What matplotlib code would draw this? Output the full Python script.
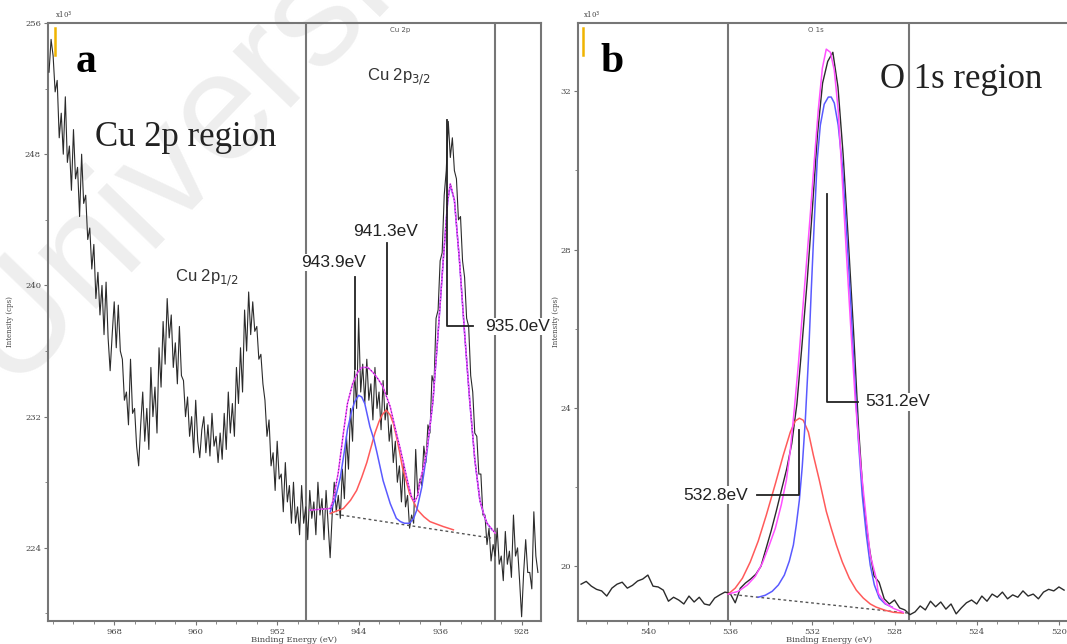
import numpy as np
import matplotlib
matplotlib.use('Agg')
import matplotlib.pyplot as plt
from matplotlib.ticker import MultipleLocator

# ---------------- panel a : Cu 2p ----------------
cu_start, cu_step = 974.4, -0.2
cu_counts = [
    253.0, 255.0, 254.0, 251.8, 252.5, 249.0, 250.5, 248.0, 251.5, 247.5,
    248.5, 245.8, 249.5, 246.5, 247.2, 244.2, 248.0, 245.0, 245.5, 242.8,
    243.5, 241.0, 242.5, 239.2, 240.8, 238.2, 240.0, 237.0, 240.2, 236.8,
    234.8, 237.0, 239.0, 236.2, 238.8, 236.0, 235.5, 233.0, 233.5, 231.5,
    235.5, 232.2, 232.5, 230.2, 229.0, 231.5, 233.5, 230.5, 232.5, 230.0,
    235.0, 232.0, 233.8, 231.0, 236.2, 233.8, 237.8, 235.2, 239.2, 236.8,
    238.2, 235.0, 236.5, 234.0, 237.5, 234.5, 234.2, 232.0, 233.2, 230.8,
    232.0, 229.8, 233.0, 230.5, 229.5, 231.2, 232.0, 229.8, 231.5, 229.6,
    232.2, 230.2, 230.8, 229.2, 231.0, 229.4, 232.2, 230.0, 233.5, 231.0,
    232.8, 230.8, 235.0, 232.8, 236.2, 233.5, 238.5, 236.0, 239.6, 237.0,
    239.0, 237.2, 237.5, 235.5, 235.8, 234.0, 233.0, 230.8, 231.8, 229.0,
    229.8, 227.5, 230.5, 228.2, 228.5, 226.2, 229.2, 226.8, 227.8, 225.5,
    228.0, 225.5, 226.5, 224.8, 227.8, 225.5, 226.5, 224.5, 227.5, 225.8,
    226.8, 224.8, 228.0, 226.0, 227.0, 224.5, 227.5, 225.5, 223.4, 226.0,
    228.0, 226.2, 227.2, 225.8, 228.8, 227.0, 230.8, 228.8, 232.5, 230.5,
    234.8, 232.5, 238.0, 233.5, 235.2, 232.8, 235.5, 233.0, 234.0, 231.8,
    235.0, 232.5, 233.5, 231.2, 234.2, 231.8, 232.8, 230.5, 231.5, 229.2,
    230.5, 228.0, 229.0, 226.8, 229.2, 226.5, 227.2, 225.2, 226.0, 225.5,
    230.0, 227.2, 228.2, 227.8, 230.2, 229.2, 231.5, 231.0, 234.5, 234.0,
    238.0, 238.5, 241.5, 242.0, 245.5, 247.0, 250.0, 247.8, 249.0, 247.0,
    246.5, 244.0, 244.2, 241.5, 240.5, 238.0, 237.5, 234.5, 233.5, 231.0,
    230.8, 228.5, 228.5, 226.0, 226.0, 224.2, 225.2, 223.2, 224.2, 223.5,
    225.2, 223.0, 223.5, 222.0, 225.0, 223.0, 223.8, 222.2, 226.0, 223.5,
    224.0, 222.0, 219.8, 222.5, 224.5, 222.5, 222.5, 221.5, 226.2, 223.5,
    222.5,
]
cu_energy = cu_start + cu_step * np.arange(len(cu_counts))

cu_env_e = [948.8, 946.8, 946.5, 946.0, 945.5, 945.1, 944.6, 944.1, 943.7, 943.1,
            942.6, 942.1, 941.6, 940.9, 940.3, 939.9, 939.5, 939.1, 938.8, 938.5,
            938.2, 938.0, 937.6, 937.3, 937.0, 936.7, 936.2, 935.7, 935.25, 935.0,
            934.6, 934.1, 933.6, 933.1, 932.6, 932.1, 931.7, 931.4, 930.6]
cu_env_y = [226.3, 226.4, 226.9, 228.6, 231.0, 232.8, 234.0, 234.7, 235.0, 235.0,
            234.7, 234.3, 233.8, 232.6, 231.0, 230.0, 228.9, 227.8, 227.1, 226.8,
            227.2, 228.0, 229.0, 230.0, 231.4, 233.0, 237.1, 241.5, 245.2, 246.2,
            245.2, 241.5, 237.1, 233.0, 229.4, 226.9, 226.0, 225.5, 224.9]

cu_blue_e = [946.8, 946.3, 945.8, 945.4, 945.1, 944.7, 944.4, 944.0, 943.7, 943.4,
             942.9, 942.5, 942.2, 941.6, 940.9, 940.3, 939.9, 939.5, 939.0, 938.6,
             938.3, 937.8, 937.3, 936.7, 936.2, 935.7, 935.25, 935.0, 934.6, 934.1,
             933.6, 933.1, 932.6, 932.1, 931.7, 931.4, 930.9]
cu_blue_y = [226.2, 227.0, 228.3, 229.9, 231.2, 232.3, 232.9, 233.3, 233.2, 232.8,
             231.4, 230.6, 229.8, 228.1, 226.7, 225.8, 225.6, 225.5, 225.5, 225.8,
             226.3, 227.7, 229.8, 233.0, 237.1, 241.5, 245.2, 246.1, 245.2, 241.5,
             237.1, 233.0, 229.4, 226.9, 226.0, 225.5, 225.1]

cu_red_e = [946.8, 945.5, 944.8, 944.2, 943.7, 943.2, 942.8, 942.4, 942.0, 941.7,
            941.3, 940.9, 940.6, 940.3, 940.0, 939.7, 939.3, 939.0, 938.6, 938.2,
            937.6, 937.0, 935.7, 934.7]
cu_red_y = [226.1, 226.4, 226.9, 227.5, 228.3, 229.2, 230.1, 231.0, 231.7, 232.1,
            232.4, 232.1, 231.6, 230.8, 229.9, 228.9, 228.0, 227.3, 226.8, 226.3,
            225.9, 225.6, 225.3, 225.1]

cu_base_e = [946.8, 931.0]
cu_base_y = [226.1, 224.6]

cu_window = [949.2, 930.6]

# ---------------- panel b : O 1s ----------------
o_start, o_step = 543.25, -0.25
o_counts = [
    19.55, 19.62, 19.50, 19.42, 19.38, 19.25, 19.45, 19.55, 19.60, 19.45,
    19.52, 19.63, 19.68, 19.78, 19.50, 19.48, 19.40, 19.12, 19.22, 19.15,
    19.05, 19.25, 19.10, 19.22, 19.05, 19.02, 19.20, 19.28, 19.35, 19.32,
    19.08, 19.45,
    19.58, 19.68, 19.80, 20.00, 20.45, 20.90, 21.40, 21.93, 22.45, 23.10,
    24.10, 25.60, 27.20, 29.00, 30.90, 32.20, 32.75, 32.98, 32.10, 30.40,
    28.25, 26.00, 23.50, 21.60, 20.55, 19.76, 19.60, 19.18, 19.05,
    19.15, 18.95, 18.90, 18.78, 18.85, 19.00, 18.90, 19.12, 18.98, 19.10,
    18.92, 19.05, 18.80, 18.95, 19.08, 19.15, 19.05, 19.25, 19.12, 19.30,
    19.22, 19.35, 19.18, 19.28, 19.22, 19.38, 19.25, 19.30, 19.18, 19.35,
    19.42, 19.38, 19.48, 19.40,
]
o_energy = o_start + o_step * np.arange(len(o_counts))

o_env_e = [536.09, 535.60, 535.16, 534.77, 534.43, 534.09, 533.80, 533.51, 533.26, 533.07,
           532.88, 532.68, 532.49, 532.29, 532.10, 531.90, 531.71, 531.51, 531.32, 531.12,
           530.93, 530.74, 530.54, 530.35, 530.15, 529.91, 529.62, 529.37, 529.18, 528.89,
           528.79, 528.45, 528.06, 527.57]
o_env_y = [19.30, 19.37, 19.53, 19.75, 20.08, 20.54, 20.96, 21.55, 22.18, 22.93,
           23.94, 25.08, 26.34, 27.61, 28.87, 30.26, 31.52, 32.58, 33.06, 32.98,
           32.53, 31.52, 29.75, 27.98, 26.22, 24.20, 22.43, 21.17, 20.28, 19.70,
           19.32, 19.07, 18.94, 18.84]

o_blue_e = [534.63, 534.29, 533.95, 533.65, 533.36, 533.12, 532.92, 532.78, 532.63, 532.49,
            532.34, 532.19, 532.05, 531.90, 531.76, 531.61, 531.42, 531.22, 531.08, 530.93,
            530.74, 530.54, 530.35, 530.15, 529.96, 529.76, 529.57, 529.37, 529.18, 528.98,
            528.74, 528.45, 528.11]
o_blue_y = [19.22, 19.27, 19.37, 19.53, 19.78, 20.13, 20.54, 21.04, 21.67, 22.51,
            23.69, 25.21, 26.97, 28.74, 30.26, 31.14, 31.67, 31.85, 31.85, 31.70,
            31.14, 30.13, 28.62, 26.85, 24.95, 23.19, 21.80, 20.79, 20.03, 19.53,
            19.20, 19.05, 18.97]

o_red_e = [536.09, 535.75, 535.40, 535.02, 534.63, 534.24, 533.80, 533.41, 533.07, 532.83,
           532.63, 532.44, 532.19, 531.95, 531.66, 531.32, 531.08, 530.83, 530.54, 530.20,
           529.86, 529.52, 529.18, 528.89, 528.45, 528.06, 527.57]
o_red_y = [19.30, 19.45, 19.70, 20.11, 20.64, 21.29, 22.08, 22.81, 23.39, 23.67,
           23.74, 23.69, 23.39, 22.81, 22.18, 21.39, 20.96, 20.54, 20.11, 19.70,
           19.40, 19.20, 19.05, 18.97, 18.89, 18.84, 18.82]

o_base_e = [536.09, 527.33]
o_base_y = [19.30, 18.82]

o_window = [536.1, 527.3]

# ---------------- styling ----------------
GRAY = '#767676'
SPEC = '#2b2b2b'
BLUE = '#5a5aff'
RED = '#ff5a5a'
MAG = '#ff50ff'
TICK_FONT = {'family': 'DejaVu Serif', 'size': 6}
LBL = {'family': 'Liberation Sans', 'size': 12.5}
box = dict(facecolor='white', edgecolor='none', pad=1.0)

fig = plt.figure(figsize=(10.67, 6.44), dpi=100)

# watermark behind everything
fig.text(0.012, 0.385, 'University of Malaya', rotation=46, rotation_mode='anchor',
         fontsize=110, family='Liberation Sans', color='#eeeeee', zorder=-1)

ax1 = fig.add_axes([0.045, 0.0357, 0.462, 0.9286])
ax2 = fig.add_axes([0.5417, 0.0357, 0.47, 0.9286])


def style_axes(ax, xlim, ylim, xmaj, xmin, ymaj, ymin):
    ax.patch.set_alpha(0)
    ax.set_xlim(*xlim)
    ax.set_ylim(*ylim)
    ax.xaxis.set_major_locator(MultipleLocator(xmaj))
    ax.xaxis.set_minor_locator(MultipleLocator(xmin))
    ax.yaxis.set_major_locator(MultipleLocator(ymaj))
    ax.yaxis.set_minor_locator(MultipleLocator(ymin))
    for s in ax.spines.values():
        s.set_color(GRAY)
        s.set_linewidth(1.5)
    ax.tick_params(which='both', direction='out', color=GRAY, pad=2)
    ax.tick_params(which='major', length=3)
    ax.tick_params(which='minor', length=2)
    for lab in ax.get_xticklabels() + ax.get_yticklabels():
        lab.set_fontfamily(TICK_FONT['family'])
        lab.set_fontsize(TICK_FONT['size'])
        lab.set_color('#444444')
    ax.set_xlabel('Binding Energy (eV)', fontsize=6, family='DejaVu Serif',
                  color='#444444', labelpad=0)


# ---- panel a ----
style_axes(ax1, (974.5, 926.1), (219.54, 256.0), 8, 2, 8, 4)
for e in cu_window:
    ax1.axvline(e, color=GRAY, lw=1.5, zorder=1)
ax1.plot(cu_energy, cu_counts, color=SPEC, lw=0.8, zorder=3)
ax1.plot(cu_base_e, cu_base_y, color='#555555', lw=1, ls=(0, (2, 2)), zorder=4)
ax1.plot(cu_red_e, cu_red_y, color=RED, lw=1.1, zorder=4)
ax1.plot(cu_blue_e, cu_blue_y, color=BLUE, lw=1.1, zorder=4)
ax1.plot(cu_env_e, cu_env_y, color=MAG, lw=1.1, zorder=5)
ax1.plot(cu_env_e, cu_env_y, color='#5a2a9a', lw=0.8, ls=(0, (1, 2)), zorder=5)
ax1.set_ylabel('Intensity (cps)', fontsize=5, family='DejaVu Serif', color='#444444',
               labelpad=8)

ax1.text(0.055, 0.918, 'a', transform=ax1.transAxes, fontsize=30, fontweight='bold',
         family='Liberation Serif', color='black')
ax1.text(0.095, 0.795, 'Cu 2p region', transform=ax1.transAxes, fontsize=25,
         family='Liberation Serif', color='#222222')
ax1.text(0.714, 0.988, 'Cu 2p', transform=ax1.transAxes, fontsize=5,
         family='DejaVu Sans', color='#555555', ha='center', va='center')
ax1.text(958.9, 240.5, r'Cu 2p$_{1/2}$', fontsize=12, family='Liberation Sans',
         color='#333333', ha='center', va='center')
ax1.text(940.1, 252.7, r'Cu 2p$_{3/2}$', fontsize=12, family='Liberation Sans',
         color='#333333', ha='center', va='center')

# peak markers
ax1.plot([944.4, 944.4], [240.5, 234.9], color='#222222', lw=1.3, zorder=6)
ax1.text(946.5, 241.4, '943.9eV', ha='center', va='center', bbox=box, zorder=7,
         color='#222222', **LBL)
ax1.plot([941.2, 941.2], [242.6, 233.4], color='#222222', lw=1.3, zorder=6)
ax1.text(941.4, 243.3, '941.3eV', ha='center', va='center', bbox=box, zorder=7,
         color='#222222', **LBL)
ax1.plot([935.35, 935.35, 932.8], [250.1, 237.5, 237.5], color='#222222', lw=1.3, zorder=6)
ax1.text(931.6, 237.5, '935.0eV', ha='left', va='center', bbox=box, zorder=7,
         color='#222222', clip_on=False, **LBL)

# ---- panel b ----
style_axes(ax2, (543.4, 519.0), (18.62, 33.72), 4, 1, 4, 2)
for e in o_window:
    ax2.axvline(e, color=GRAY, lw=1.5, zorder=1)
ax2.plot(o_energy, o_counts, color=SPEC, lw=1.0, zorder=3)
ax2.plot(o_base_e, o_base_y, color='#555555', lw=1, ls=(0, (2, 2)), zorder=4)
ax2.plot(o_red_e, o_red_y, color=RED, lw=1.1, zorder=4)
ax2.plot(o_blue_e, o_blue_y, color=BLUE, lw=1.1, zorder=4)
ax2.plot(o_env_e, o_env_y, color=MAG, lw=1.1, zorder=5)
ax2.set_ylabel('Intensity (cps)', fontsize=5, family='DejaVu Serif', color='#444444',
               labelpad=0)

ax2.text(0.044, 0.918, 'b', transform=ax2.transAxes, fontsize=30, fontweight='bold',
         family='Liberation Serif', color='black')
ax2.text(0.602, 0.891, 'O 1s region', transform=ax2.transAxes, fontsize=25,
         family='Liberation Serif', color='#222222')
ax2.text(0.475, 0.988, 'O 1s', transform=ax2.transAxes, fontsize=5,
         family='DejaVu Sans', color='#555555', ha='center', va='center')

ax2.plot([531.27, 531.27, 529.76], [29.4, 24.15, 24.15], color='#222222', lw=1.3, zorder=6)
ax2.text(529.4, 24.15, '531.2eV', ha='left', va='center', bbox=box, zorder=7,
         color='#222222', **LBL)
ax2.plot([532.63, 532.63, 534.68], [23.44, 21.8, 21.8], color='#222222', lw=1.3, zorder=6)
ax2.text(536.7, 21.8, '532.8eV', ha='center', va='center', bbox=box, zorder=7,
         color='#222222', **LBL)

# scale markers in top-left corners
for ax, xf in ((ax1, 0.014), (ax2, 0.01)):
    ax.plot([xf, xf], [0.946, 0.992], transform=ax.transAxes, color='#f0b400',
            lw=1.8, zorder=6)
    ax.text(xf, 1.004, r'x10$^{3}$', transform=ax.transAxes, fontsize=5,
            family='DejaVu Serif', color='#444444', va='bottom')

fig.savefig('out.png', dpi=100)
